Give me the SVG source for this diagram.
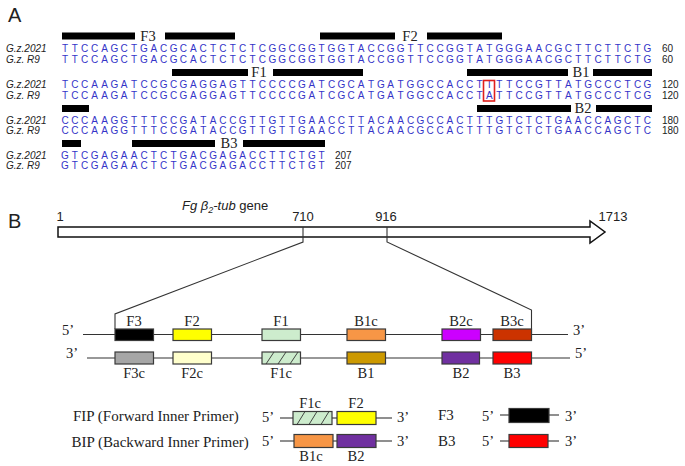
<svg xmlns="http://www.w3.org/2000/svg" width="685" height="466" viewBox="0 0 685 466">
<style>
.seq{font-family:"Liberation Sans",Arial,sans-serif;font-size:10px;fill:#3434c8;text-anchor:middle}
.nm{font-family:"Liberation Sans",Arial,sans-serif;font-size:10px;font-style:italic;fill:#222}
.num{font-family:"Liberation Sans",Arial,sans-serif;font-size:10px;fill:#222}
.bar{fill:#000}
.bl{font-family:"Liberation Serif","Times New Roman",serif;font-size:14.5px;fill:#222;text-anchor:middle}
.lbl{font-family:"Liberation Serif","Times New Roman",serif;font-size:14.5px;fill:#222;text-anchor:middle}
.end{font-family:"Liberation Serif","Times New Roman",serif;font-size:14.5px;fill:#222}
.leg{font-family:"Liberation Serif","Times New Roman",serif;font-size:15px;fill:#222}
.pan{font-family:"Liberation Sans",Arial,sans-serif;font-size:20px;fill:#222}
.pos{font-family:"Liberation Sans",Arial,sans-serif;font-size:13px;fill:#222;text-anchor:middle}
.box{stroke:#3a3a3a;stroke-width:1.2}
.ln{stroke:#333;stroke-width:1.1;fill:none}
.hatch{stroke:#333;stroke-width:0.9}
</style>

<g id="panel-A">
<text class="pan" x="8" y="22">A</text>
<g id="row1">
<rect class="bar" x="62" y="32.5" width="73" height="7"/>
<text class="bl" x="148" y="40.5">F3</text>
<rect class="bar" x="165" y="32.5" width="70" height="7"/>
<rect class="bar" x="320" y="32.5" width="75" height="7"/>
<text class="bl" x="410" y="40.5">F2</text>
<rect class="bar" x="427" y="32.5" width="75" height="7"/>
<text class="nm" x="6" y="52">G.z.2021</text>
<text class="seq" y="52" x="65 74.9 84.7 94.6 104.5 114.4 124.2 134.1 144 153.8 163.7 173.6 183.4 193.3 203.2 213.1 222.9 232.8 242.7 252.5 262.4 272.3 282.1 292 301.9 311.8 321.6 331.5 341.4 351.2 361.1 371 380.8 390.7 400.6 410.5 420.3 430.2 440.1 449.9 459.8 469.7 479.5 489.4 499.3 509.2 519 528.9 538.8 548.6 558.5 568.4 578.2 588.1 598 607.9 617.7 627.6 637.5 647.3">TTCCAGCTGACGCACTCTCTCGGCGGTGGTACCGGTTCCGGTATGGGAACGCTTCTTCTG</text>
<text class="num" x="662" y="52">60</text>
<text class="nm" x="6" y="62.5">G.z. R9</text>
<text class="seq" y="62.5" x="65 74.9 84.7 94.6 104.5 114.4 124.2 134.1 144 153.8 163.7 173.6 183.4 193.3 203.2 213.1 222.9 232.8 242.7 252.5 262.4 272.3 282.1 292 301.9 311.8 321.6 331.5 341.4 351.2 361.1 371 380.8 390.7 400.6 410.5 420.3 430.2 440.1 449.9 459.8 469.7 479.5 489.4 499.3 509.2 519 528.9 538.8 548.6 558.5 568.4 578.2 588.1 598 607.9 617.7 627.6 637.5 647.3">TTCCAGCTGACGCACTCTCTCGGCGGTGGTACCGGTTCCGGTATGGGAACGCTTCTTCTG</text>
<text class="num" x="662" y="62.5">60</text>
</g>
<g id="row2">
<rect class="bar" x="172" y="69" width="76" height="7"/>
<text class="bl" x="259" y="77">F1</text>
<rect class="bar" x="273" y="69" width="90" height="7"/>
<rect class="bar" x="467" y="69" width="101" height="7"/>
<text class="bl" x="581" y="77">B1</text>
<rect class="bar" x="593" y="69" width="59" height="7"/>
<text class="nm" x="6" y="88">G.z.2021</text>
<text class="seq" y="88" x="65 74.9 84.7 94.6 104.5 114.4 124.2 134.1 144 153.8 163.7 173.6 183.4 193.3 203.2 213.1 222.9 232.8 242.7 252.5 262.4 272.3 282.1 292 301.9 311.8 321.6 331.5 341.4 351.2 361.1 371 380.8 390.7 400.6 410.5 420.3 430.2 440.1 449.9 459.8 469.7 479.5 489.4 499.3 509.2 519 528.9 538.8 548.6 558.5 568.4 578.2 588.1 598 607.9 617.7 627.6 637.5 647.3">TCCAAGATCCGCGAGGAGTTCCCCGATCGCATGATGGCCACCTTTTCCGTTATGCCCTCG</text>
<text class="num" x="662" y="88">120</text>
<text class="nm" x="6" y="98.5">G.z. R9</text>
<text class="seq" y="98.5" x="65 74.9 84.7 94.6 104.5 114.4 124.2 134.1 144 153.8 163.7 173.6 183.4 193.3 203.2 213.1 222.9 232.8 242.7 252.5 262.4 272.3 282.1 292 301.9 311.8 321.6 331.5 341.4 351.2 361.1 371 380.8 390.7 400.6 410.5 420.3 430.2 440.1 449.9 459.8 469.7 479.5 489.4 499.3 509.2 519 528.9 538.8 548.6 558.5 568.4 578.2 588.1 598 607.9 617.7 627.6 637.5 647.3">TCCAAGATCCGCGAGGAGTTCCCCGATCGCATGATGGCCACCTATTCCGTTATGCCCTCG</text>
<text class="num" x="662" y="98.5">120</text>
<rect x="483.5" y="80.5" width="11" height="20.5" fill="none" stroke="#e0201c" stroke-width="1.6"/>
</g>
<g id="row3">
<rect class="bar" x="62" y="105" width="27" height="7"/>
<rect class="bar" x="477" y="105" width="94" height="7"/>
<text class="bl" x="583" y="113">B2</text>
<rect class="bar" x="596" y="105" width="56" height="7"/>
<text class="nm" x="6" y="123.5">G.z.2021</text>
<text class="seq" y="123.5" x="65 74.9 84.7 94.6 104.5 114.4 124.2 134.1 144 153.8 163.7 173.6 183.4 193.3 203.2 213.1 222.9 232.8 242.7 252.5 262.4 272.3 282.1 292 301.9 311.8 321.6 331.5 341.4 351.2 361.1 371 380.8 390.7 400.6 410.5 420.3 430.2 440.1 449.9 459.8 469.7 479.5 489.4 499.3 509.2 519 528.9 538.8 548.6 558.5 568.4 578.2 588.1 598 607.9 617.7 627.6 637.5 647.3">CCCAAGGTTTCCGATACCGTTGTTGAACCTTACAACGCCACTTTGTCTCTGAACCAGCTC</text>
<text class="num" x="662" y="123.5">180</text>
<text class="nm" x="6" y="134">G.z. R9</text>
<text class="seq" y="134" x="65 74.9 84.7 94.6 104.5 114.4 124.2 134.1 144 153.8 163.7 173.6 183.4 193.3 203.2 213.1 222.9 232.8 242.7 252.5 262.4 272.3 282.1 292 301.9 311.8 321.6 331.5 341.4 351.2 361.1 371 380.8 390.7 400.6 410.5 420.3 430.2 440.1 449.9 459.8 469.7 479.5 489.4 499.3 509.2 519 528.9 538.8 548.6 558.5 568.4 578.2 588.1 598 607.9 617.7 627.6 637.5 647.3">CCCAAGGTTTCCGATACCGTTGTTGAACCTTACAACGCCACTTTGTCTCTGAACCAGCTC</text>
<text class="num" x="662" y="134">180</text>
</g>
<g id="row4">
<rect class="bar" x="62" y="140" width="19" height="7"/>
<rect class="bar" x="132" y="140" width="83" height="7"/>
<text class="bl" x="229" y="148">B3</text>
<rect class="bar" x="243" y="140" width="82" height="7"/>
<text class="nm" x="6" y="158.5">G.z.2021</text>
<text class="seq" y="158.5" x="65 74.9 84.7 94.6 104.5 114.4 124.2 134.1 144 153.8 163.7 173.6 183.4 193.3 203.2 213.1 222.9 232.8 242.7 252.5 262.4 272.3 282.1 292 301.9 311.8 321.6">GTCGAGAACTCTGACGAGACCTTCTGT</text>
<text class="num" x="335" y="158.5">207</text>
<text class="nm" x="6" y="169">G.z. R9</text>
<text class="seq" y="169" x="65 74.9 84.7 94.6 104.5 114.4 124.2 134.1 144 153.8 163.7 173.6 183.4 193.3 203.2 213.1 222.9 232.8 242.7 252.5 262.4 272.3 282.1 292 301.9 311.8 321.6">GTCGAGAACTCTGACGAGACCTTCTGT</text>
<text class="num" x="335" y="169">207</text>
</g>
</g>

<g id="panel-B">
<text class="pan" x="8" y="228">B</text>
<text x="182" y="210" font-family="Liberation Sans, Arial, sans-serif" font-size="13" fill="#222"><tspan font-style="italic">Fg β</tspan><tspan font-style="italic" font-size="9" dy="3">2</tspan><tspan font-style="italic" dy="-3">-tub</tspan> gene</text>
<g id="gene">
<polygon points="58,227 590,227 590,221 605,232 590,243 590,237 58,237" fill="#fff" stroke="#111" stroke-width="1.5"/>
<text class="pos" x="60" y="221">1</text>
<text class="pos" x="303" y="221">710</text>
<text class="pos" x="386" y="221">916</text>
<text class="pos" x="613" y="221">1713</text>
</g>

<g id="connectors">
<polyline class="ln" points="303,227 303,242 115,314 115,329"/>
<polyline class="ln" points="387,227 387,242 531.5,310 531.5,334"/>
<line class="ln" x1="83" y1="334.5" x2="568" y2="334.5"/>
<line class="ln" x1="87" y1="358" x2="570" y2="358"/>
<line class="ln" x1="280" y1="418" x2="293" y2="418"/>
<line class="ln" x1="332" y1="418" x2="337" y2="418"/>
<line class="ln" x1="376" y1="418" x2="392" y2="418"/>
<line class="ln" x1="280" y1="441" x2="294" y2="441"/>
<line class="ln" x1="333" y1="441" x2="337" y2="441"/>
<line class="ln" x1="376" y1="441" x2="392" y2="441"/>
<line class="ln" x1="500" y1="415" x2="509" y2="415"/>
<line class="ln" x1="549" y1="415" x2="559" y2="415"/>
<line class="ln" x1="500" y1="441" x2="509" y2="441"/>
<line class="ln" x1="548" y1="441" x2="559" y2="441"/>
</g>

<text class="end" x="62" y="335">5’</text>
<text class="end" x="66" y="358">3’</text>
<text class="end" x="573" y="335">3’</text>
<text class="end" x="575" y="358">5’</text>

<g id="F3"><rect class="box" x="115" y="329" width="38.5" height="11.5" fill="#000"/><text class="lbl" x="134" y="326">F3</text></g>
<g id="F2"><rect class="box" x="173" y="329" width="38.5" height="11.5" fill="#ffff00"/><text class="lbl" x="192" y="326">F2</text></g>
<g id="F1"><rect class="box" x="262" y="329" width="38.5" height="11.5" fill="#cdeccd"/><text class="lbl" x="281" y="326">F1</text></g>
<g id="B1c"><rect class="box" x="347" y="329" width="38.5" height="11.5" fill="#f79646"/><text class="lbl" x="366" y="326">B1c</text></g>
<g id="B2c"><rect class="box" x="442" y="329" width="38.5" height="11.5" fill="#cc00ff"/><text class="lbl" x="461" y="326">B2c</text></g>
<g id="B3c"><rect class="box" x="493" y="329" width="38.5" height="11.5" fill="#cc3300"/><text class="lbl" x="512" y="326">B3c</text></g>

<g id="F3c"><rect class="box" x="115" y="352" width="38.5" height="12" fill="#a6a6a6"/><text class="lbl" x="134" y="378">F3c</text></g>
<g id="F2c"><rect class="box" x="173" y="352" width="38.5" height="12" fill="#ffffcc"/><text class="lbl" x="192" y="378">F2c</text></g>
<g id="F1c"><rect class="box" x="262" y="352" width="38.5" height="12" fill="#cdeccd"/><path class="hatch" d="M266,364 L274,352 M278,364 L286,352 M290,364 L298,352"/><text class="lbl" x="281" y="378">F1c</text></g>
<g id="B1"><rect class="box" x="347" y="352" width="38.5" height="12" fill="#cc9900"/><text class="lbl" x="366" y="378">B1</text></g>
<g id="B2"><rect class="box" x="442" y="352" width="37.5" height="12" fill="#7030a0"/><text class="lbl" x="461" y="378">B2</text></g>
<g id="B3"><rect class="box" x="493" y="352" width="38.5" height="12" fill="#ff0000"/><text class="lbl" x="512" y="378">B3</text></g>

<g id="legend-FIP">
<text class="leg" x="73" y="421">FIP (Forward Inner Primer)</text>
<text class="end" x="262" y="422">5’</text>
<rect class="box" x="293" y="411.5" width="39" height="13" fill="#cdeccd"/>
<path class="hatch" d="M297,424.5 L305,411.5 M309,424.5 L317,411.5 M321,424.5 L329,411.5"/>
<text class="lbl" x="310" y="408">F1c</text>
<rect class="box" x="337" y="411.5" width="39" height="13" fill="#ffff00"/>
<text class="lbl" x="356" y="408">F2</text>
<text class="end" x="397" y="422">3’</text>
</g>
<g id="legend-BIP">
<text class="leg" x="71.5" y="446.5">BIP (Backward Inner Primer)</text>
<text class="end" x="262" y="446">5’</text>
<rect class="box" x="294" y="434.5" width="39" height="13" fill="#f79646"/>
<text class="lbl" x="311" y="461">B1c</text>
<rect class="box" x="337" y="434.5" width="39" height="13" fill="#7030a0"/>
<text class="lbl" x="356" y="461">B2</text>
<text class="end" x="397" y="446">3’</text>
</g>
<g id="legend-F3">
<text class="leg" x="438" y="420">F3</text>
<text class="end" x="482" y="421">5’</text>
<rect class="box" x="509" y="408.5" width="40" height="14" fill="#000"/>
<text class="end" x="565" y="421">3’</text>
</g>
<g id="legend-B3">
<text class="leg" x="438" y="446">B3</text>
<text class="end" x="482" y="446">5’</text>
<rect class="box" x="509" y="434.5" width="39" height="13" fill="#ff0000"/>
<text class="end" x="565" y="446">3’</text>
</g>
</g>
</svg>
